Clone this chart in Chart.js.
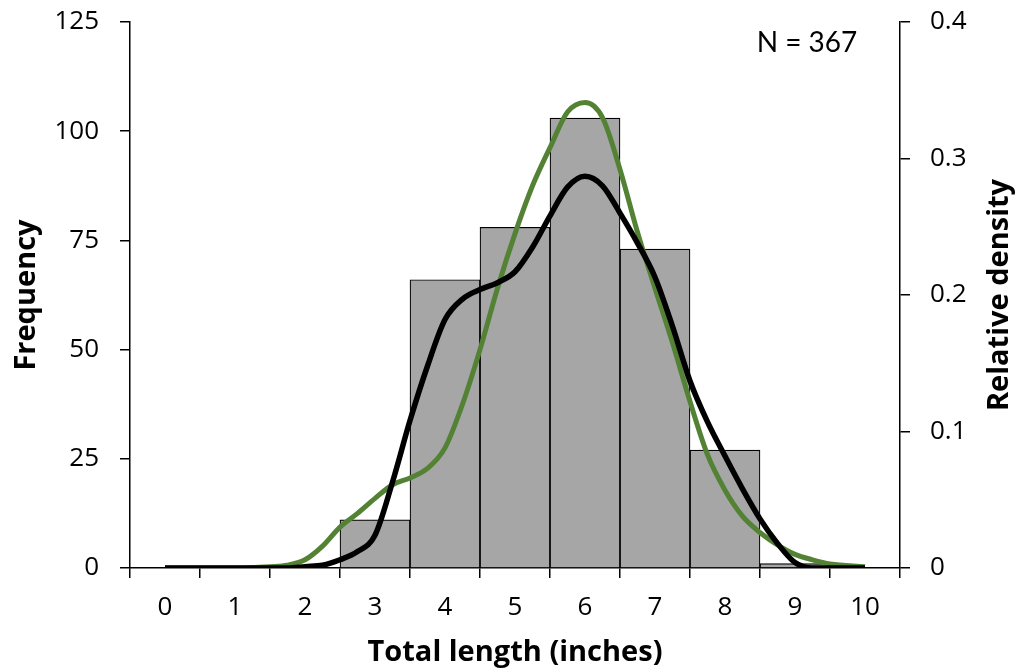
<!DOCTYPE html>
<html>
<head>
<meta charset="utf-8">
<script src="https://cdn.jsdelivr.net/npm/chart.js@4.4.1/dist/chart.umd.min.js"></script>
<style>
  html, body { margin: 0; padding: 0; background: #fff; }
  #wrap { width: 1020px; height: 672px; }
</style>
</head>
<body>
<div id="wrap"><canvas id="chart" width="1020" height="672"></canvas></div>
<script>
// histogram bins (inches) and fish counts per bin
const lengthBins = [0, 1, 2, 3, 4, 5, 6, 7, 8, 9, 10];
const frequency = [null, null, null, 11, 66, 78, 103, 73, 27, 1, null];

// density curves, sampled along the length axis
const densityX = [0, 0.5, 1, 1.5, 1.75, 2, 2.25, 2.5, 2.75, 3, 3.25, 3.5, 3.75, 4, 4.25, 4.5, 4.75,
  5, 5.25, 5.5, 5.75, 6, 6.25, 6.5, 6.75, 7, 7.25, 7.5, 7.75, 8, 8.25, 8.5, 8.75, 9, 9.25, 9.5, 10];
const kernelDensity = [0, 0, 0, 0, 0, 0.001, 0.002, 0.006, 0.012, 0.024, 0.063, 0.108, 0.148, 0.182, 0.197, 0.204, 0.209,
  0.217, 0.235, 0.258, 0.279, 0.287, 0.280, 0.260, 0.238, 0.213, 0.177, 0.137, 0.107, 0.082, 0.058, 0.036, 0.018, 0.004, 0, 0, 0];
const normalDensity = [0, 0, 0, 0.001, 0.002, 0.006, 0.016, 0.030, 0.040, 0.051, 0.061, 0.066, 0.073, 0.088, 0.120, 0.160, 0.205,
  0.245, 0.280, 0.308, 0.334, 0.341, 0.330, 0.292, 0.246, 0.205, 0.165, 0.122, 0.083, 0.057, 0.038, 0.026, 0.017, 0.010, 0.006, 0.003, 0.001];

const sampleSize = "N = 367";
const tickFont = { family: "'Open Sans', sans-serif", size: 26 };
const titleFont = { family: "'Open Sans', sans-serif", size: 29, weight: "bold" };

const toPoints = (xs, ys) => xs.map((x, i) => ({ x: x, y: ys[i] }));

// fixed axis box sizes so the plot area sits at 130..900 x 22..568
const fitVertical = (width) => (s) => {
  s.width = width;
  s.paddingTop = 0;
  s.paddingBottom = 0;
};

// extra text: sample size and right-hand axis title (reads bottom to top)
const extraText = {
  id: "extraText",
  afterDraw(chart) {
    const { ctx, chartArea } = chart;
    ctx.save();
    ctx.fillStyle = "#000";
    ctx.font = "28px Lato, sans-serif";
    ctx.textAlign = "center";
    ctx.textBaseline = "middle";
    ctx.fillText(sampleSize, 807, 43);

    ctx.font = "bold 29px 'Open Sans', sans-serif";
    ctx.translate(1000, (chartArea.top + chartArea.bottom) / 2);
    ctx.rotate(-Math.PI / 2);
    ctx.fillText("Relative density", 0, 0);
    ctx.restore();
  }
};

new Chart(document.getElementById("chart"), {
  type: "bar",
  data: {
    datasets: [
      {
        type: "line",
        label: "Kernel",
        data: toPoints(densityX, kernelDensity),
        yAxisID: "y1",
        borderColor: "#000",
        borderWidth: 5.5,
        pointRadius: 0,
        cubicInterpolationMode: "monotone",
        order: 1
      },
      {
        type: "line",
        label: "Normal",
        data: toPoints(densityX, normalDensity),
        yAxisID: "y1",
        borderColor: "#548235",
        borderWidth: 5,
        pointRadius: 0,
        cubicInterpolationMode: "monotone",
        order: 2
      },
      {
        label: "Frequency",
        data: toPoints(lengthBins, frequency),
        yAxisID: "y",
        backgroundColor: "#a6a6a6",
        borderColor: "#000",
        borderWidth: 1.2,
        barPercentage: 1,
        categoryPercentage: 1,
        order: 3
      }
    ]
  },
  options: {
    responsive: false,
    animation: false,
    layout: { padding: { top: 22, left: 0, right: 0, bottom: 0 } },
    plugins: {
      legend: { display: false },
      tooltip: { enabled: false }
    },
    scales: {
      x: {
        type: "linear",
        offset: false,
        min: -0.5,
        max: 10.5,
        afterBuildTicks: (s) => { s.ticks = lengthBins.map((v) => ({ value: v })); },
        afterFit: (s) => { s.height = 104; },
        grid: { offset: true, drawOnChartArea: false, tickLength: 10, color: "#000", lineWidth: 1.5 },
        border: { color: "#000", width: 1.5 },
        ticks: { color: "#000", font: tickFont, padding: 14, maxRotation: 0, autoSkip: false },
        title: { display: true, text: "Total length (inches)", color: "#000", font: titleFont, padding: { top: 0, bottom: 2 } }
      },
      y: {
        position: "left",
        min: 0,
        max: 125,
        afterFit: fitVertical(130),
        grid: { drawOnChartArea: false, tickLength: 10, color: "#000", lineWidth: 1.5 },
        border: { color: "#000", width: 1.5 },
        ticks: { stepSize: 25, color: "#000", font: tickFont, padding: 21 },
        title: { display: true, text: "Frequency", color: "#000", font: titleFont, padding: { top: 9, bottom: 0 } }
      },
      y1: {
        position: "right",
        min: 0,
        max: 0.4,
        afterFit: fitVertical(120),
        grid: { drawOnChartArea: false, tickLength: 10, color: "#000", lineWidth: 1.5 },
        border: { color: "#000", width: 1.5 },
        ticks: { stepSize: 0.1, color: "#000", font: tickFont, padding: 20 }
      }
    }
  },
  plugins: [extraText]
});
</script>
</body>
</html>
